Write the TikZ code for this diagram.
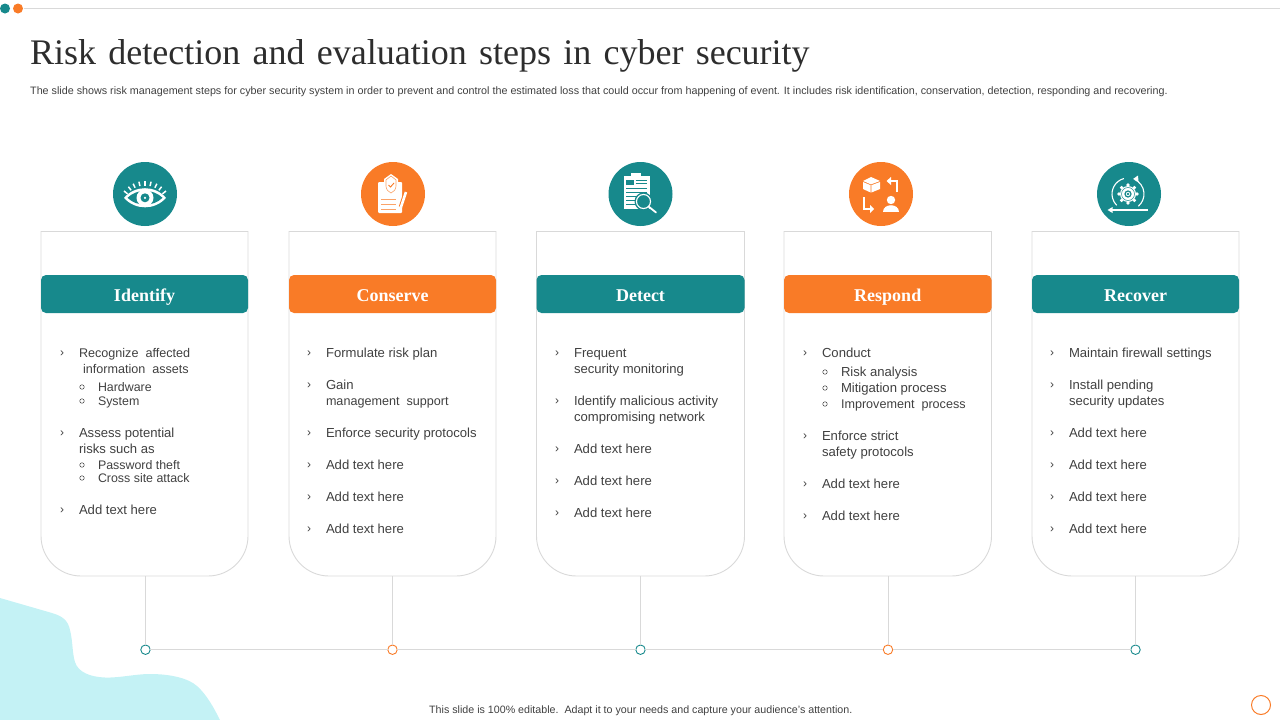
\documentclass[tikz,border=0pt]{standalone}
\usepackage{fontspec}
\setmainfont{Liberation Sans}
\newfontfamily\serifx{Liberation Serif}
\usetikzlibrary{arrows.meta}
\definecolor{tealx}{HTML}{17898C}
\definecolor{orangex}{HTML}{F97B27}
\definecolor{blobx}{HTML}{C4F2F5}
\definecolor{linex}{HTML}{D9D9D9}
\definecolor{textx}{HTML}{404040}
\tikzset{
  cardnode/.style={minimum width=#1,minimum height=345,inner sep=0,outer sep=0,draw=none},
  cardline/.style={draw=linex,line width=0.9pt},
  header/.style={rounded corners=5,minimum height=38,inner sep=0,outer sep=0,text=white,text height=16pt,text depth=2pt,font=\serifx\bfseries\fontsize{18}{20}\selectfont},
  item/.style={anchor=base west,inner sep=0,outer sep=0,text=textx,font=\fontsize{13.1}{14}\selectfont},
  chev/.style={item,font=\fontsize{12}{14}\selectfont},
  dotnode/.style={circle,draw=#1,fill=white,line width=0.9pt,minimum size=9.5,inner sep=0,outer sep=0},
  badge/.style={circle,fill=#1,minimum size=64,inner sep=0,outer sep=0},
}
\newcommand{\tightx}[1]{{\fontsize{12.6}{14}\selectfont #1}}
\newcommand{\smallx}[1]{{\fontsize{12.4}{14}\selectfont #1}}
\newcommand{\cardx}[5]{%
  \node[cardnode=#3,anchor=north west] (card#1) at (#2,231) {};
  \draw[cardline,rounded corners=40] (card#1.north west) -- (card#1.south west) -- (card#1.south east) -- (card#1.north east);
  \draw[cardline] (card#1.north east) -- (card#1.north west);
  \node[header,fill=#4,minimum width=#3,anchor=north west] (head#1) at (#2,275) {#5};
}
\newcounter{tn}
\newcommand{\itm}[3]{\node[item] (t\the\value{tn}) at (#1,#2+5) {#3};\stepcounter{tn}}
\newcommand{\chv}[3]{\node[chev] (t\the\value{tn}) at (#1-1,#2+4.5) {›};\stepcounter{tn}\node[item] (t\the\value{tn}) at (#1+18,#2+5) {#3};\stepcounter{tn}}
\newcommand{\sbi}[3]{\node[circle,draw=textx,line width=0.5pt,minimum size=4.5,inner sep=0] (t\the\value{tn}) at (#1+3,#2+1) {};\stepcounter{tn}\node[item] (t\the\value{tn}) at (#1+19,#2+5) {#3};\stepcounter{tn}}
\begin{document}
\begin{tikzpicture}[x=1pt,y=-1pt]
\useasboundingbox (0,0) rectangle (1280,720);
% background blob
\fill[blobx] (0,598) -- (52,613) .. controls (62,616) and (68,620) .. (70,630) .. controls (73,642) and (72,652) .. (75,662) .. controls (78,672) and (90,677) .. (105,677.5) .. controls (120,678) and (135,674) .. (150,674) .. controls (170,674) and (188,678) .. (197,686) .. controls (207,695) and (214,708) .. (220,720) -- (0,720) -- cycle;
% top rule
\coordinate (ruleL) at (24,8.5);
\coordinate (ruleR) at (1280,8.5);
\draw[draw=linex,line width=0.9pt] (ruleL) -- (ruleR);
\node[circle,fill=tealx,minimum size=10,inner sep=0] (topA) at (5,8.5) {};
\node[circle,fill=orangex,minimum size=10,inner sep=0] (topB) at (18,8.5) {};
% title
\node[anchor=base west,inner sep=0,text=textx!70!black,font=\serifx\fontsize{36}{40}\selectfont] (title) at (30,64) {\spaceskip=0.34em Risk detection and evaluation steps in cyber security};
\node[anchor=base west,inner sep=0,text=textx,font=\fontsize{10.75}{12}\selectfont] (sub) at (30,94.5) {The slide shows risk management steps for cyber security system in order to prevent and control the estimated loss that could occur from happening of event. It includes risk identification, conservation, detection, responding and recovering.};
% cards
\cardx{1}{41}{207}{tealx}{Identify}
\cardx{2}{289}{207}{orangex}{Conserve}
\cardx{3}{536.5}{208}{tealx}{Detect}
\cardx{4}{784}{207.5}{orangex}{Respond}
\cardx{5}{1032}{207}{tealx}{Recover}
% timeline
\node[dotnode=tealx] (d1) at (145.5,649.7) {};
\node[dotnode=orangex] (d2) at (392.5,649.7) {};
\node[dotnode=tealx] (d3) at (640.5,649.7) {};
\node[dotnode=orangex] (d4) at (888,649.7) {};
\node[dotnode=tealx] (d5) at (1135.5,649.7) {};
\draw[draw=linex,line width=0.9pt] (d1) -- (d2);
\draw[draw=linex,line width=0.9pt] (d2) -- (d3);
\draw[draw=linex,line width=0.9pt] (d3) -- (d4);
\draw[draw=linex,line width=0.9pt] (d4) -- (d5);
\draw[draw=linex,line width=0.9pt] (d1.north |- card1.south) -- (d1.north);
\draw[draw=linex,line width=0.9pt] (d2.north |- card2.south) -- (d2.north);
\draw[draw=linex,line width=0.9pt] (d3.north |- card3.south) -- (d3.north);
\draw[draw=linex,line width=0.9pt] (d4.north |- card4.south) -- (d4.north);
\draw[draw=linex,line width=0.9pt] (d5.north |- card5.south) -- (d5.north);
% text card 1
\chv{61}{352}{\tightx{Recognize\ \ affected}}
\itm{83}{368}{\tightx{information\ \ assets}}
\sbi{79}{386}{\smallx{Hardware}}
\sbi{79}{400}{\smallx{System}}
\chv{61}{432}{Assess potential}
\itm{79}{448}{risks such as}
\sbi{79}{464}{\smallx{Password theft}}
\sbi{79}{477}{\smallx{Cross site attack}}
\chv{61}{509}{Add text here}
% text card 2
\chv{308}{352}{Formulate risk plan}
\chv{308}{384}{Gain}
\itm{326}{400}{\tightx{management\ \ support}}
\chv{308}{432}{Enforce security protocols}
\chv{308}{464}{Add text here}
\chv{308}{496}{Add text here}
\chv{308}{528}{Add text here}
% text card 3
\chv{556}{352}{Frequent}
\itm{574}{368}{security monitoring}
\chv{556}{400}{Identify malicious activity}
\itm{574}{416}{compromising network}
\chv{556}{448}{Add text here}
\chv{556}{480}{Add text here}
\chv{556}{512}{Add text here}
% text card 4
\chv{804}{352}{Conduct}
\sbi{822}{371}{Risk analysis}
\sbi{822}{387}{Mitigation process}
\sbi{822}{403}{\tightx{Improvement\ \ process}}
\chv{804}{435}{Enforce strict}
\itm{822}{451}{safety protocols}
\chv{804}{483}{Add text here}
\chv{804}{515}{Add text here}
% text card 5
\chv{1051}{352}{Maintain firewall settings}
\chv{1051}{384}{Install pending}
\itm{1069}{400}{security updates}
\chv{1051}{432}{Add text here}
\chv{1051}{464}{Add text here}
\chv{1051}{496}{Add text here}
\chv{1051}{528}{Add text here}
% badges
\node[badge=tealx] (b1) at (145,194) {};
\node[badge=orangex] (b2) at (393,194) {};
\node[badge=tealx] (b3) at (640.5,194) {};
\node[badge=orangex] (b4) at (881,194) {};
\node[badge=tealx] (b5) at (1129,194) {};
% eye
\begin{scope}[shift={(b1.center)}]
  \fill[white] (-21,3.8) .. controls (-10,-9) and (10,-9) .. (21,3.8) .. controls (10,16.5) and (-10,16.5) .. (-21,3.8) -- cycle;
  \fill[tealx] (-17.5,3.8) .. controls (-8,-5.5) and (8,-5.5) .. (17.5,3.8) .. controls (8,13) and (-8,13) .. (-17.5,3.8) -- cycle;
  \fill[white] (0,3.8) circle[radius=8.5];
  \fill[tealx] (0,3.8) circle[radius=4.5];
  \fill[white] (0,3.8) circle[radius=1.2];
  \foreach \a in {-141,-128,-116,-103,-90,-77,-64,-52,-39}
    \draw[white,line width=1.5pt] (0,14) ++(\a:22.5) -- ++(\a:4.5);
\end{scope}
% clipboard shield
\begin{scope}[shift={(b2.center)}]
  \fill[white,rounded corners=1] (-15,-12) rectangle (9,19);
  \fill[white] (-9,-15) -- (-2,-20) -- (5,-15) -- (5,-8) .. controls (5,-3) and (1,-1) .. (-2,1) .. controls (-5,-1) and (-9,-3) .. (-9,-8) -- cycle;
  \draw[orangex!70!white,line width=0.6pt] (-7,-14) -- (-2,-18) -- (3,-14) -- (3,-8) .. controls (3,-4) and (0,-2) .. (-2,-1) .. controls (-4,-2) and (-7,-4) .. (-7,-8) -- cycle;
  \draw[orangex,line width=0.9pt] (-4.5,-9) -- (-2.5,-7) -- (1,-11);
  \foreach \y in {5,10,15} \draw[orangex!70!white,line width=0.7pt] (-12,\y) -- (3,\y);
  \draw[orangex,line width=4.5pt] (13,-2) -- (8,13);
  \draw[white,line width=2.6pt] (13,-2) -- (8,13);
  \fill[white] (6.7,12.5) -- (9.3,13.5) -- (7,18.5) -- cycle;
\end{scope}
% clipboard magnifier
\begin{scope}[shift={(b3.center)}]
  \fill[white] (-17,-18) rectangle (9,15);
  \fill[white] (-10,-21) rectangle (0,-17);
  \fill[tealx] (-14.5,-14.5) rectangle (-7,-9);
  \foreach \y in {-14,-10.5} \draw[tealx,line width=0.9pt] (-5,\y) -- (6,\y);
  \foreach \y in {-6,-2,2,6,10} \draw[tealx,line width=0.9pt] (-14.5,\y) -- (6,\y);
  \fill[tealx] (3,7.5) circle[radius=9];
  \draw[white,line width=1.1pt,fill=tealx] (3,7.5) circle[radius=7];
  \draw[white,line width=1.8pt,line cap=round] (8,12.5) -- (15.5,18.5);
\end{scope}
% respond
\begin{scope}[shift={(b4.center)}]
  \fill[white] (-18,-12) -- (-10.4,-8.8) -- (-10.4,-1.5) -- (-18,-5) -- cycle;
  \fill[white] (-9.6,-8.8) -- (-1,-12) -- (-1,-5) -- (-9.6,-1.5) -- cycle;
  \fill[white] (-18,-13) -- (-10,-17) -- (-1,-13) -- (-10,-9.6) -- cycle;
  \draw[white,line width=1.4pt] (16,-2) -- (16,-13) -- (9,-13);
  \fill[white] (5.5,-13) -- (10,-17) -- (10,-9) -- cycle;
  \draw[white,line width=1.4pt] (-17,3) -- (-17,15) -- (-10,15);
  \fill[white] (-7,15) -- (-11,11) -- (-11,19) -- cycle;
  \fill[white] (10,6) circle[radius=4.2];
  \fill[white] (2,17.5) .. controls (2,9) and (18,9) .. (18,17.5) -- cycle;
\end{scope}
% recover
\begin{scope}[shift={(b5.center)}]
  \fill[white] (-1,0) circle[radius=8];
  \foreach \a in {0,45,...,315} \fill[white] (-1,0) ++(\a:9) circle[radius=1.8];
  \draw[tealx,line width=0.5pt] (-1,0) circle[radius=6.5];
  \draw[tealx,fill=white,line width=1.2pt] (-1,0) circle[radius=3];
  \fill[tealx] (-1,0) circle[radius=1.3];
  \draw[white,line width=1.1pt] (-1,0) ++(-105:16) arc[start angle=-105,end angle=-225,radius=16];
  \draw[white,line width=1.1pt] (-1,0) ++(-65:16) arc[start angle=-65,end angle=50,radius=16];
  \fill[white] (4,-15) -- (9,-18.5) -- (9.5,-12.5) -- cycle;
  \draw[white,line width=1.1pt] (-19,16) -- (19,16);
  \fill[white] (-21.5,16) -- (-16.5,13) -- (-16.5,19) -- cycle;
\end{scope}
% footer
\node[anchor=base west,inner sep=0,text=textx,font=\fontsize{10.68}{12}\selectfont] (foot) at (429,713) {This slide is 100\% editable.\ \ Adapt it to your needs and capture your audience's attention.};
\node[circle,draw=orangex,line width=1pt,minimum size=19,inner sep=0] (corner) at (1261,705) {};
\end{tikzpicture}
\end{document}
